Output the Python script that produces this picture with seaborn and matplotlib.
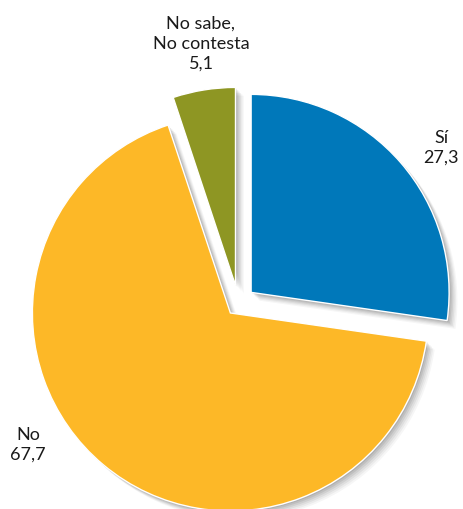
import matplotlib
matplotlib.use("Agg")
import matplotlib.pyplot as plt
import matplotlib.patheffects as pe
import seaborn as sns

# Survey answers (percent)
categories = ["Sí", "No", "No sabe,\nNo contesta"]
values = [27.3, 67.7, 5.1]
colors = ["#0078BA", "#FDB827", "#8E9623"]
explode = [0.085, 0.063, 0.092]

sns.set_theme(style="white")
plt.rcParams["font.family"] = ["Lato", "DejaVu Sans"]

W, H, DPI = 463, 509, 100
fig = plt.figure(figsize=(W / DPI, H / DPI), dpi=DPI)
ax = fig.add_axes([0, 0, 1, 1])

palette = sns.color_palette(colors)
wedges, _ = ax.pie(
    values,
    colors=palette,
    explode=explode,
    startangle=90,
    counterclock=False,
    radius=1.0,
    wedgeprops=dict(edgecolor="white", linewidth=1.0),
)

# soft drop shadow built from stacked translucent offsets
shadow = [
    pe.SimplePatchShadow(offset=(d, -d), shadow_rgbFace="#000000", alpha=a)
    for d, a in [(6.0, 0.035), (5.0, 0.045), (4.0, 0.055), (3.0, 0.065),
                 (2.0, 0.075), (1.0, 0.085)]
]
for w in wedges:
    w.set_path_effects(shadow + [pe.Normal()])

# pixel scale: pie radius ~198 px, centre at (238, 303) from top-left
r_px = 198.0
cx, cy = 238.4, 303.4
ax.set_xlim(-cx / r_px, (W - cx) / r_px)
ax.set_ylim(-(H - cy) / r_px, cy / r_px)
ax.set_aspect("equal")
ax.axis("off")


def fmt(v):
    return f"{v:.1f}".replace(".", ",")


label_pos = {
    "Sí": (441, 148),
    "No": (28, 445),
    "No sabe,\nNo contesta": (201, 44),
}
for name, v in zip(categories, values):
    px, py = label_pos[name]
    fig.text(px / W, 1 - py / H, f"{name}\n{fmt(v)}",
             ha="center", va="center", fontsize=13,
             linespacing=1.3, color="#1a1a1a")

fig.savefig("out.png", dpi=DPI, facecolor="white")
